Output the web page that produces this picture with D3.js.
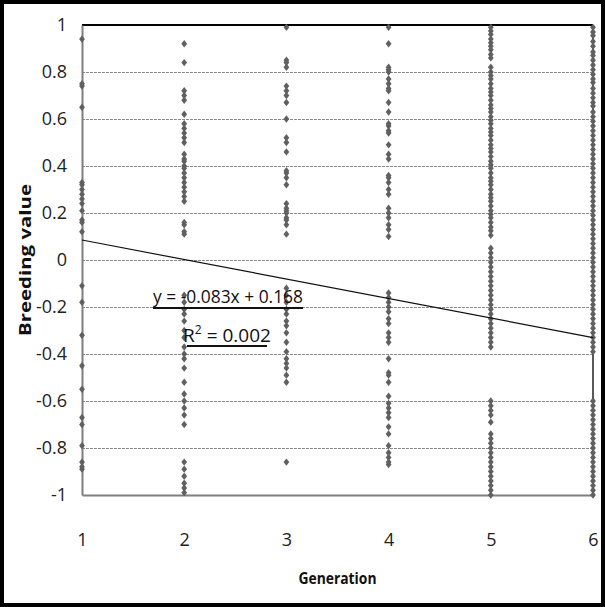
<!DOCTYPE html>
<html>
<head>
<meta charset="utf-8">
<script src="https://cdn.jsdelivr.net/npm/d3@7"></script>
<style>
  body { margin: 0; background: #fff; }
  svg { display: block; font-family: "Open Sans", "Noto Sans", sans-serif; }
</style>
</head>
<body>
<script>
// breeding values, one list per generation
var gen1 = [0.94, 0.75, 0.74, 0.65, 0.33, 0.32, 0.30, 0.28, 0.26, 0.24, 0.21, 0.17, 0.16, 0.12,
  -0.11, -0.18, -0.32, -0.45, -0.55, -0.67, -0.70, -0.79, -0.86, -0.88, -0.89];
var gen2 = [0.92, 0.84, 0.72, 0.70, 0.68, 0.62, 0.58, 0.56, 0.54, 0.52, 0.50, 0.45, 0.43, 0.42,
  0.40, 0.39, 0.37, 0.35, 0.33, 0.31, 0.29, 0.27, 0.25, 0.16, 0.15, 0.12, 0.11,
  -0.15, -0.18, -0.21, -0.23, -0.26, -0.30, -0.33, -0.37, -0.40, -0.42, -0.46, -0.52, -0.57,
  -0.60, -0.63, -0.66, -0.70, -0.86, -0.89, -0.92, -0.95, -0.97, -0.99];
var gen3 = [0.99, 0.85, 0.84, 0.82, 0.74, 0.72, 0.70, 0.67, 0.60, 0.52, 0.50, 0.46, 0.38, 0.37,
  0.35, 0.32, 0.24, 0.22, 0.21, 0.20, 0.18, 0.17, 0.15, 0.11,
  -0.12, -0.15, -0.18, -0.21, -0.23, -0.26, -0.28, -0.31, -0.35, -0.39, -0.42, -0.44, -0.46,
  -0.49, -0.52, -0.86];
var gen4 = [0.99, 0.92, 0.82, 0.81, 0.80, 0.77, 0.75, 0.73, 0.72, 0.67, 0.63, 0.58, 0.57, 0.55,
  0.54, 0.49, 0.45, 0.43, 0.36, 0.35, 0.33, 0.30, 0.28, 0.22, 0.20, 0.18, 0.15, 0.13, 0.10,
  -0.14, -0.16, -0.18, -0.20, -0.22, -0.25, -0.27, -0.31, -0.33, -0.35, -0.42, -0.48, -0.49,
  -0.52, -0.58, -0.61, -0.63, -0.65, -0.67, -0.71, -0.74, -0.79, -0.82, -0.84, -0.86, -0.87];
var gen5 = [0.99, 0.975, 0.96, 0.94, 0.925, 0.91, 0.895, 0.875, 0.86,
  0.82, 0.80, 0.785, 0.77, 0.75, 0.73, 0.715, 0.70, 0.68, 0.66, 0.645, 0.63, 0.61, 0.595, 0.58,
  0.56, 0.545, 0.53, 0.51, 0.49, 0.475, 0.46, 0.44, 0.42, 0.405, 0.39, 0.37, 0.35, 0.335, 0.32,
  0.30, 0.28, 0.265, 0.25, 0.23, 0.21, 0.195, 0.18, 0.16, 0.14, 0.125, 0.105,
  0.05, 0.03, 0.01, -0.01, -0.03, -0.05, -0.07, -0.09, -0.11, -0.13, -0.15, -0.17, -0.19,
  -0.21, -0.23, -0.25, -0.27, -0.29, -0.31, -0.33, -0.35, -0.37,
  -0.60, -0.62, -0.64, -0.66, -0.69,
  -0.74, -0.76, -0.78, -0.80, -0.82, -0.84, -0.86, -0.88, -0.90, -0.92, -0.94, -0.96, -0.98, -1.0];
var gen6 = [0.99, 0.97, 0.955, 0.93, 0.91, 0.885, 0.87, 0.85, 0.83, 0.81, 0.79, 0.77, 0.755,
  0.73, 0.71, 0.69, 0.67, 0.655, 0.63, 0.61, 0.59, 0.57, 0.55, 0.53, 0.51, 0.49, 0.47, 0.45,
  0.43, 0.41, 0.39, 0.37, 0.35, 0.33, 0.31, 0.29, 0.27, 0.25, 0.23, 0.21, 0.19, 0.17, 0.15,
  0.13, 0.11, 0.09, 0.07, 0.05, 0.03, 0.01, -0.01, -0.03, -0.05, -0.07, -0.09, -0.11, -0.13,
  -0.15, -0.17, -0.19, -0.21, -0.23, -0.25, -0.27, -0.29, -0.31, -0.33, -0.35, -0.37, -0.39,
  -0.60, -0.62, -0.64, -0.66, -0.68, -0.70, -0.72, -0.74, -0.76, -0.78, -0.80, -0.82, -0.84,
  -0.86, -0.88, -0.90, -0.92, -0.94, -0.96, -0.98, -1.0];

var generations = [1, 2, 3, 4, 5, 6];
var yTicks = [-1, -0.8, -0.6, -0.4, -0.2, 0, 0.2, 0.4, 0.6, 0.8, 1];
var gridTicks = [-0.8, -0.6, -0.4, -0.2, 0, 0.2, 0.4, 0.6, 0.8];

// linear trend shown on the chart
var slope = -0.083, intercept = 0.168;
var eqLabel = "y = -0.083x + 0.168";
var r2Value = "0.002";

var width = 605, height = 607;
var plot = {left: 82, right: 593, top: 25, bottom: 495};

var svg = d3.select("body").append("svg")
  .attr("width", width)
  .attr("height", height);

svg.append("rect")
  .attr("x", 2).attr("y", 2)
  .attr("width", width - 4).attr("height", height - 4)
  .attr("fill", "#fff")
  .attr("stroke", "#000")
  .attr("stroke-width", 4);

var x = d3.scaleLinear().domain([1, 6]).range([plot.left, plot.right]);
var y = d3.scaleLinear().domain([-1, 1]).range([plot.bottom, plot.top]);

// gridlines
svg.append("g")
  .attr("transform", "translate(" + plot.left + ",0)")
  .call(d3.axisLeft(y).tickValues(gridTicks).tickSize(-(plot.right - plot.left)).tickFormat(""))
  .call(function (g) { g.select(".domain").remove(); })
  .selectAll("line")
    .attr("stroke", "#8a8a8a")
    .attr("stroke-dasharray", "3,1");

// plot frame: black top, right side, grey axes
svg.append("line")
  .attr("x1", plot.left).attr("x2", plot.right)
  .attr("y1", plot.top).attr("y2", plot.top)
  .attr("stroke", "#000").attr("stroke-width", 2);
svg.append("line")
  .attr("x1", plot.right).attr("x2", plot.right)
  .attr("y1", plot.top).attr("y2", plot.bottom)
  .attr("stroke", "#222").attr("stroke-width", 1.5);

var yAxis = svg.append("g")
  .attr("transform", "translate(" + plot.left + ",0)")
  .call(d3.axisLeft(y).tickValues(yTicks).tickSize(0).tickPadding(15)
    .tickFormat(function (d) { return String(+d.toFixed(1)); }));
yAxis.select(".domain").attr("stroke", "#7f7f7f").attr("stroke-width", 2);
yAxis.selectAll("text").attr("font-size", 18).attr("fill", "#222")
  .attr("font-family", "'Open Sans', sans-serif");

var xAxis = svg.append("g")
  .attr("transform", "translate(0," + plot.bottom + ")")
  .call(d3.axisBottom(x).tickValues(generations).tickSize(0).tickPadding(38)
    .tickFormat(d3.format("d")));
xAxis.select(".domain").attr("stroke", "#7f7f7f").attr("stroke-width", 2);
xAxis.selectAll("text").attr("font-size", 18).attr("fill", "#222")
  .attr("font-family", "'Open Sans', sans-serif");

// points
var points = [];
[gen1, gen2, gen3, gen4, gen5, gen6].forEach(function (vals, i) {
  vals.forEach(function (v) { points.push({gen: generations[i], value: v}); });
});

var diamond = {
  draw: function (ctx, size) {
    var w = 2.9, h = 3.7;
    ctx.moveTo(0, -h); ctx.lineTo(w, 0); ctx.lineTo(0, h); ctx.lineTo(-w, 0); ctx.closePath();
  }
};

svg.append("g").selectAll("path")
  .data(points)
  .enter()
  .append("path")
    .attr("d", d3.symbol(diamond))
    .attr("transform", function (d) { return "translate(" + x(d.gen) + "," + y(d.value) + ")"; })
    .attr("fill", "#606060");

// trendline
svg.append("line")
  .attr("x1", x(1)).attr("y1", y(slope * 1 + intercept))
  .attr("x2", x(6)).attr("y2", y(slope * 6 + intercept))
  .attr("stroke", "#111").attr("stroke-width", 1.2);

// equation labels
svg.append("text")
  .attr("x", 228).attr("y", 303)
  .attr("text-anchor", "middle")
  .attr("font-size", 19)
  .attr("textLength", 150)
  .attr("lengthAdjust", "spacingAndGlyphs")
  .attr("fill", "#111")
  .text(eqLabel);
svg.append("line")
  .attr("x1", 153).attr("x2", 303).attr("y1", 308).attr("y2", 308)
  .attr("stroke", "#111").attr("stroke-width", 2);

var r2 = svg.append("text")
  .attr("x", 227).attr("y", 342)
  .attr("text-anchor", "middle")
  .attr("font-size", 19)
  .attr("fill", "#111");
r2.append("tspan").text("R");
r2.append("tspan").attr("font-size", 12).attr("dy", -8).text("2");
r2.append("tspan").attr("dy", 8).text(" = " + r2Value);
svg.append("line")
  .attr("x1", 187).attr("x2", 267).attr("y1", 346).attr("y2", 346)
  .attr("stroke", "#111").attr("stroke-width", 2);

// axis titles
svg.append("text")
  .attr("transform", "translate(31,260) rotate(-90)")
  .attr("text-anchor", "middle")
  .attr("font-size", 16)
  .attr("font-weight", "bold")
  .attr("textLength", 152)
  .attr("lengthAdjust", "spacingAndGlyphs")
  .attr("fill", "#111")
  .text("Breeding value");

svg.append("text")
  .attr("x", (plot.left + plot.right) / 2).attr("y", 584)
  .attr("text-anchor", "middle")
  .attr("font-size", 16)
  .attr("font-weight", "bold")
  .attr("textLength", 78)
  .attr("lengthAdjust", "spacingAndGlyphs")
  .attr("fill", "#111")
  .text("Generation");
</script>
</body>
</html>
